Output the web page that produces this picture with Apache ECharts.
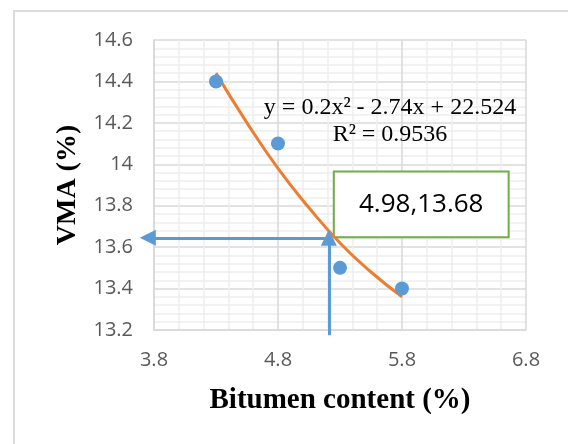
<!DOCTYPE html>
<html>
<head>
<meta charset="utf-8">
<script src="https://cdn.jsdelivr.net/npm/echarts@6/dist/echarts.min.js"></script>
<style>
html, body { margin: 0; padding: 0; background: #fff; }
#main { width: 568px; height: 444px; }
</style>
</head>
<body>
<div id="main"></div>
<script>
// measured points
const bitumen = [4.3, 4.8, 5.3, 5.8];
const vma = [14.4, 14.1, 13.5, 13.4];
// polynomial trendline
const trendX = [4.3, 4.55, 4.8, 5.05, 5.3, 5.55, 5.8];
const trendY = [14.44, 14.2, 13.98, 13.79, 13.62, 13.48, 13.36];
// axis ticks
const xTicks = [3.8, 4.8, 5.8, 6.8];
const yTicks = [13.2, 13.4, 13.6, 13.8, 14, 14.2, 14.4, 14.6];
// guide arrows (optimum) and label box
const optPoint = [5.21, 13.645];
const arrowStart = [3.75, 13.175];
const boxCorners = [[5.25, 13.965], [6.66, 13.648]];
const boxText = '4.98,13.68';
const eqText = 'y = 0.2x² - 2.74x + 22.524\nR² = 0.9536';

const chart = echarts.init(document.getElementById('main'));
const labelFont = 'Open Sans';
const serif = 'Liberation Serif';
const blue = '#5b9bd5';

chart.setOption({
  animation: false,
  grid: { left: 154, top: 40, right: 42, bottom: 114 },
  graphic: [
    {
      type: 'rect', z: -10, silent: true,
      shape: { x: 14, y: 11, width: 600, height: 500 },
      style: { fill: 'none', stroke: '#dcdcdc', lineWidth: 2 }
    },
    {
      type: 'text', z: 100, x: 390, y: 94,
      style: {
        text: eqText, fill: '#000', textAlign: 'center',
        font: '24px "Liberation Serif"', lineHeight: 27
      }
    }
  ],
  xAxis: {
    type: 'value',
    min: xTicks[0],
    max: xTicks[xTicks.length - 1],
    interval: xTicks[1] - xTicks[0],
    name: 'Bitumen content (%)',
    nameLocation: 'middle',
    nameGap: 56,
    nameTextStyle: { fontFamily: serif, fontWeight: 'bold', fontSize: 29, color: '#000' },
    axisLine: { show: true, lineStyle: { color: '#d9d9d9', width: 1.5 } },
    axisTick: { show: false },
    axisLabel: {
      margin: 20, fontFamily: labelFont, fontSize: 20, color: '#595959',
      formatter: v => v.toFixed(1)
    },
    splitLine: { show: true, lineStyle: { color: '#d9d9d9', width: 1.5 } },
    minorTick: { show: false, splitNumber: 5 },
    minorSplitLine: { show: true, lineStyle: { color: '#eeeeee', width: 1.5 } }
  },
  yAxis: {
    type: 'value',
    min: yTicks[0],
    max: yTicks[yTicks.length - 1],
    interval: 0.2,
    name: 'VMA (%)',
    nameLocation: 'middle',
    nameRotate: 90,
    nameGap: 72,
    nameTextStyle: { fontFamily: serif, fontWeight: 'bold', fontSize: 28, color: '#000' },
    axisLine: { show: true, lineStyle: { color: '#d9d9d9', width: 1.5 } },
    axisTick: { show: false },
    axisLabel: { margin: 21, fontFamily: labelFont, fontSize: 20, color: '#595959' },
    splitLine: { show: true, lineStyle: { color: '#d9d9d9', width: 1.5 } },
    minorTick: { show: false, splitNumber: 5 },
    minorSplitLine: { show: true, lineStyle: { color: '#eeeeee', width: 1.5 } }
  },
  series: [
    {
      type: 'line',
      data: trendX.map((x, i) => [x, trendY[i]]),
      smooth: true,
      showSymbol: false,
      z: 3,
      lineStyle: { color: '#ed7d31', width: 3 },
      markArea: {
        silent: true,
        z: 1,
        itemStyle: { color: '#fff', borderColor: '#70ad47', borderWidth: 2, opacity: 1 },
        label: {
          show: true, position: 'inside', formatter: boxText,
          fontFamily: labelFont, fontSize: 26, color: '#000'
        },
        data: [[
          { xAxis: boxCorners[0][0], yAxis: boxCorners[0][1] },
          { xAxis: boxCorners[1][0], yAxis: boxCorners[1][1] }
        ]]
      }
    },
    {
      // guide arrows from the optimum point to the axes
      type: 'lines',
      coordinateSystem: 'cartesian2d',
      clip: false,
      silent: true,
      z: 5,
      symbol: ['none', 'triangle'],
      symbolSize: [13, 16],
      lineStyle: { color: blue, width: 3, opacity: 1 },
      data: [
        { coords: [[optPoint[0], arrowStart[1]], [optPoint[0], optPoint[1]]] },
        { coords: [[optPoint[0], optPoint[1]], [arrowStart[0], optPoint[1]]] }
      ]
    },
    {
      type: 'scatter',
      data: bitumen.map((x, i) => [x, vma[i]]),
      symbolSize: 14,
      z: 4,
      itemStyle: { color: blue, opacity: 1 }
    }
  ]
});
</script>
</body>
</html>
